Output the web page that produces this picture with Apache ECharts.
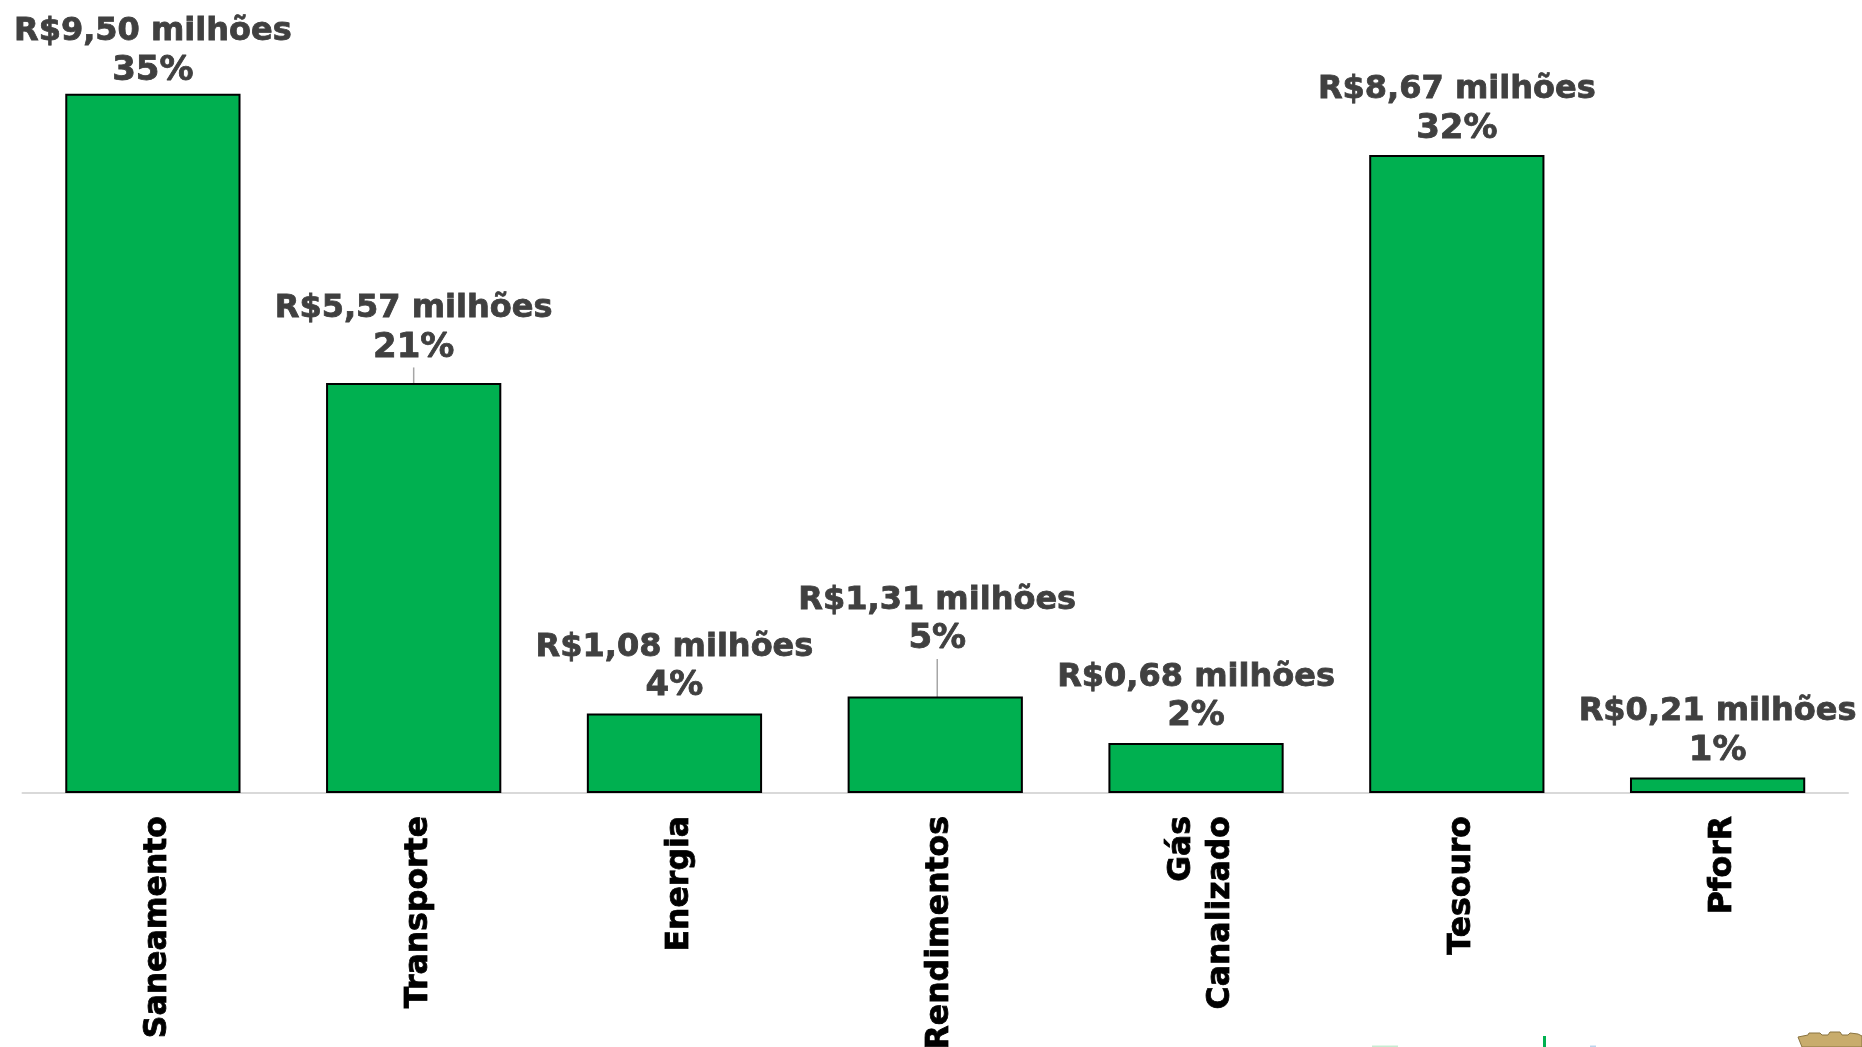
<!DOCTYPE html>
<html><head><meta charset="utf-8">
<style>html,body{margin:0;padding:0;background:#fff}#c{width:1862px;height:1047px}</style>
<script src="https://cdn.jsdelivr.net/npm/echarts@6/dist/echarts.min.js"></script>
</head><body><div id="c"></div>
<script>
const categories = ['Saneamento','Transporte','Energia','Rendimentos','Gás\nCanalizado','Tesouro','PforR'];
const values = [9.50,5.57,1.08,1.31,0.68,8.67,0.21];
const shareLabels = ['35%','21%','4%','5%','2%','32%','1%'];
const amountLabels = ['R$9,50 milhões','R$5,57 milhões','R$1,08 milhões','R$1,31 milhões','R$0,68 milhões','R$8,67 milhões','R$0,21 milhões'];
const hasLeader = [false,true,false,true,false,false,false];
const labelLift = [0,12,4,34,3.5,3,3.5];
const labelShift = [0,0,0,2,0,0,0];
const chart = echarts.init(document.getElementById('c'),null,{renderer:'canvas'});
const catStyle = {color:'#000',fontFamily:'DejaVu Sans',fontWeight:'bold',fontSize:31.5,lineHeight:39,padding:[10,0,0,0],textBorderColor:'#000',textBorderWidth:0.8};
const valStyle = {color:'#404040',fontFamily:'DejaVu Sans',fontWeight:'bold',lineHeight:39,textBorderColor:'#404040',textBorderWidth:0.8};
chart.setOption({
  animation:false,
  backgroundColor:'#fff',
  grid:{left:22.5,right:14,top:57,bottom:254,containLabel:false,outerBoundsMode:'none'},
  xAxis:{type:'category',data:categories,
    axisLine:{lineStyle:{color:'#d9d9d9',width:2}},
    axisTick:{show:false},
    axisLabel:{interval:0,rotate:90,margin:23,
      formatter:v=>v.split('\n').map(s=>'{c|'+s+'}').join('\n'),
      rich:{c:catStyle}}},
  yAxis:{type:'value',min:0,max:10,show:false,splitLine:{show:false}},
  series:[{type:'bar',barWidth:'67.2%',
    data:values.map((v,i)=>({value:v,labelLine:{show:hasLeader[i]}})),
    itemStyle:{color:'#00b050',borderColor:'#000',borderWidth:2},
    label:{show:true,position:'top',distance:3.6,align:'center',lineHeight:39,
      formatter:p=>'{a|'+amountLabels[p.dataIndex]+'}\n{b|'+shareLabels[p.dataIndex]+'}',
      rich:{a:{...valStyle,fontSize:32},b:{...valStyle,fontSize:34}}},
    labelLine:{show:true,lineStyle:{color:'#a6a6a6',width:1.5}},
    labelLayout:p=>({dy:-labelLift[p.dataIndex],dx:labelShift[p.dataIndex],hideOverlap:false})
  }],
  graphic:[
    {type:'rect',silent:true,shape:{x:1543,y:1036,width:3,height:11},style:{fill:'#00b050'}},
    {type:'rect',silent:true,shape:{x:1372,y:1045.5,width:26,height:1.5},style:{fill:'#c8ecd2'}},
    {type:'rect',silent:true,shape:{x:1590,y:1045.5,width:6,height:1.5},style:{fill:'#bcd6ee'}},
    {type:'polygon',silent:true,shape:{points:[[1798,1037],[1808,1035],[1809,1033],[1820,1033],[1822,1035],[1828,1035],[1830,1032],[1840,1032],[1842,1035],[1848,1035],[1850,1033],[1858,1034],[1862,1036],[1862,1047],[1802,1047]]},style:{fill:'#c8ac6c',stroke:'#8a7440',lineWidth:1}}
  ]
});
</script></body></html>
